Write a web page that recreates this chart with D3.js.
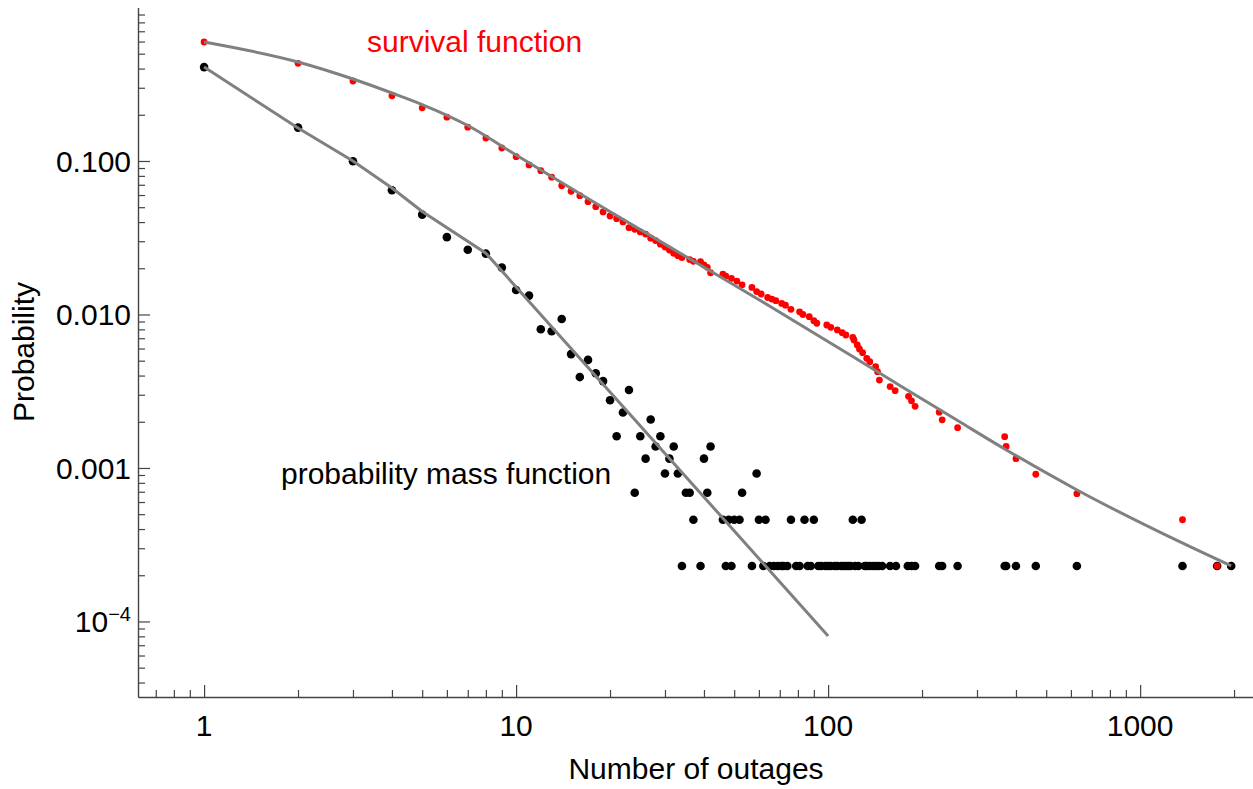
<!DOCTYPE html>
<html>
<head>
<meta charset="utf-8">
<script src="https://cdn.jsdelivr.net/npm/d3@7"></script>
<style>
  html, body { margin: 0; padding: 0; background: #ffffff; }
  svg { display: block; }
  text { font-family: "Liberation Sans", Arial, Helvetica, sans-serif; }
</style>
</head>
<body>
<svg id="chart" width="1253" height="789"></svg>
<script>
// ---------------- data ----------------
// probability mass function (black points)
const pmfX = [1,2,3,4,5,6,7,8,9,10,11,12,13,14,15,16,17,18,19,20,21,22,23,24,25,26,27,28,29,30,
  31,32,33,34,35,36,37,39,40,41,42,46,47,48,49,50,52,53,57,59,60,62,63,65,67,69,71,72,74,76,
  79,81,84,86,88,90,93,95,98,100,102,105,107,110,112,114,116,118,120,122,125,128,131,133,136,139,
  142,145,149,158,165,180,185,190,227,232,260,368,372,400,463,627,1367,1765,1958];
const pmfY = [0.409,0.165,0.0995,0.0644,0.0447,0.0319,0.0264,0.0249,0.0202,0.01445,0.01327,0.00801,
  0.00778,0.00935,0.00552,0.00391,0.00506,0.00414,0.00368,0.00276,0.00161,0.00230,0.00322,0.00069,
  0.00161,0.00115,0.00207,0.00138,0.00161,0.00092,0.00115,0.00138,0.00092,0.00023,0.00069,0.00069,
  0.00046,0.00023,0.00115,0.00069,0.00138,0.00046,0.00023,0.00046,0.00023,0.00046,0.00046,0.00069,
  0.00023,0.00092,0.00046,0.00023,0.00046,0.00023,0.00023,0.00023,0.00023,0.00023,0.00023,0.00046,
  0.00023,0.00023,0.00046,0.00023,0.00023,0.00046,0.00023,0.00023,0.00023,0.00023,0.00023,0.00023,
  0.00023,0.00023,0.00023,0.00023,0.00023,0.00023,0.00046,0.00023,0.00023,0.00046,0.00023,0.00023,
  0.00023,0.00023,0.00023,0.00023,0.00023,0.00023,0.00023,0.00023,0.00023,0.00023,0.00023,0.00023,
  0.00023,0.00023,0.00023,0.00023,0.00023,0.00023,0.00023,0.00023,0.00023];

// survival function (red points)
const survX = [1,2,3,4,5,6,7,8,9,10,11,12,13,14,15,16,17,18,19,20,21,22,23,24,25,26,27,28,29,30,
  31,32,33,34,36,37,39,40,41,42,46,47,49,51,53,57,59,61,64,66,68,71,73,76,81,83,87,90,92,99,
  102,107,111,114,120,121,124,126,129,133,136,142,144,146,158,164,181,185,190,227,232,260,368,372,
  400,463,627,1367,1765];
const survY = [0.596,0.433,0.332,0.266,0.222,0.193,0.166,0.141,0.1215,0.1067,0.0942,0.0865,0.0784,
  0.069,0.0635,0.0594,0.0543,0.0504,0.0466,0.0438,0.0421,0.0401,0.0368,0.0359,0.0345,0.0334,0.0314,
  0.0303,0.0287,0.0275,0.0263,0.0250,0.0241,0.0235,0.0228,0.0222,0.0221,0.0210,0.0203,0.0187,0.0183,
  0.0178,0.0172,0.0165,0.0156,0.0150,0.0141,0.0136,0.0129,0.0126,0.0123,0.0118,0.0115,0.0108,0.0104,
  0.0100,0.00968,0.00911,0.00877,0.00854,0.00825,0.00793,0.00761,0.00735,0.0071,0.00682,0.00633,
  0.00596,0.00564,0.00518,0.00493,0.00457,0.00424,0.00374,0.00339,0.00319,0.00293,0.00274,0.00252,
  0.00231,0.00206,0.00183,0.0016,0.00138,0.00115,0.00091,0.00068,0.00046,0.00023];

// fitted curves (gray lines)
const pmfFitX = [1,2,3,4,5,8,100];
const pmfFitY = [0.409,0.164,0.100,0.0667,0.0469,0.0251,0.0000805];
const survFitX = [1,2,3,4,5,7,10,17.3,38.9,60.6,117.7,169.7,261.4,368,628,1364,1958];
const survFitY = [0.596,0.4416,0.342,0.2773,0.2333,0.1703,0.1094,0.0557,0.0210,0.01234,0.00545,
  0.003448,0.002023,0.00133,0.000719,0.0003246,0.00023];

// ticks
const xMajorTicks = [1,10,100,1000];
const xTickLabels = ["1","10","100","1000"];
const yMajorTicks = [0.1,0.01,0.001,0.0001];
const yTickLabels = ["0.100","0.010","0.001","10^-4"];

// ---------------- drawing ----------------
const svg = d3.select("#chart");
const W = 1253, H = 789;
const plotLeft = 138, plotRight = 1253, plotTop = 7.5, plotBottom = 697;

const x = d3.scaleLog().domain([0.614, 2300]).range([plotLeft, plotRight]);
const y = d3.scaleLog().domain([1, 3.22e-5]).range([plotTop, plotBottom]);

svg.append("rect").attr("width", W).attr("height", H).attr("fill", "#ffffff");

const axisColor = "#444444";
const fontSize = 30;

// minor ticks from the scale's own tick generator
const isMajor = (v, majors) => majors.some(m => Math.abs(Math.log10(v) - Math.log10(m)) < 1e-6);
const xMinor = x.ticks().filter(v => !isMajor(v, xMajorTicks) && x(v) > plotLeft + 1);
const yMinor = y.ticks().filter(v => !isMajor(v, yMajorTicks) && v < 0.999 && y(v) < plotBottom - 1);

// x axis
const gx = svg.append("g").attr("transform", `translate(0,${plotBottom})`);
gx.call(d3.axisBottom(x).tickValues(xMinor).tickSizeInner(-7).tickSizeOuter(0).tickFormat(""));
gx.append("g").call(d3.axisBottom(x).tickValues(xMajorTicks).tickSizeInner(-12).tickSizeOuter(0).tickFormat(""))
  .select(".domain").remove();
gx.selectAll("line").attr("stroke", axisColor).attr("stroke-width", 1.2);
gx.selectAll(".domain").attr("stroke", axisColor).attr("stroke-width", 1.4);

// y axis
const gy = svg.append("g").attr("transform", `translate(${plotLeft},0)`);
gy.call(d3.axisLeft(y).tickValues(yMinor).tickSizeInner(-7).tickSizeOuter(0).tickFormat(""));
gy.append("g").call(d3.axisLeft(y).tickValues(yMajorTicks).tickSizeInner(-12).tickSizeOuter(0).tickFormat(""))
  .select(".domain").remove();
gy.selectAll("line").attr("stroke", axisColor).attr("stroke-width", 1.2);
gy.selectAll(".domain").attr("stroke", axisColor).attr("stroke-width", 1.4);

// x tick labels
svg.append("g").selectAll("text").data(xMajorTicks).join("text")
  .attr("x", d => x(d)).attr("y", 736)
  .attr("text-anchor", "middle").attr("font-size", fontSize).attr("fill", "#000")
  .text((d, i) => xTickLabels[i]);

// y tick labels
const yl = svg.append("g").selectAll("text").data(yMajorTicks).join("text")
  .attr("x", 131).attr("y", d => y(d) + 10.7)
  .attr("text-anchor", "end").attr("font-size", fontSize).attr("fill", "#000");
yl.each(function(d, i) {
  const lab = yTickLabels[i];
  const t = d3.select(this);
  if (lab.includes("^")) {
    const parts = lab.split("^");
    t.append("tspan").text(parts[0]);
    t.append("tspan").attr("font-size", 20).attr("dy", -11).text(parts[1].replace("-", "\u2212"));
  } else {
    t.text(lab);
  }
});

// axis titles
svg.append("text").attr("x", 696).attr("y", 779).attr("text-anchor", "middle")
  .attr("font-size", fontSize).attr("fill", "#000").text("Number of outages");
svg.append("text").attr("transform", "translate(34,352) rotate(-90)").attr("text-anchor", "middle")
  .attr("font-size", fontSize).attr("fill", "#000").text("Probability");

// points
const pmf = pmfX.map((v, i) => [v, pmfY[i]]);
const surv = survX.map((v, i) => [v, survY[i]]);

svg.append("g").selectAll("circle").data(pmf).join("circle")
  .attr("cx", d => x(d[0])).attr("cy", d => y(d[1])).attr("r", 4.3).attr("fill", "#000000");
svg.append("g").selectAll("circle").data(surv).join("circle")
  .attr("cx", d => x(d[0])).attr("cy", d => y(d[1])).attr("r", 3.4).attr("fill", "#ff0000");

// fitted lines
const lineLin = d3.line().x(d => x(d[0])).y(d => y(d[1]));
const lineSmooth = d3.line().x(d => x(d[0])).y(d => y(d[1])).curve(d3.curveMonotoneX);
svg.append("path").datum(survFitX.map((v, i) => [v, survFitY[i]]))
  .attr("d", lineSmooth).attr("fill", "none").attr("stroke", "#808080").attr("stroke-width", 3);
svg.append("path").datum(pmfFitX.map((v, i) => [v, pmfFitY[i]]))
  .attr("d", lineLin).attr("fill", "none").attr("stroke", "#808080").attr("stroke-width", 3);

// annotations
svg.append("text").attr("x", 367).attr("y", 52).attr("font-size", fontSize).attr("fill", "#ff0000")
  .text("survival function");
svg.append("text").attr("x", 281).attr("y", 484).attr("font-size", fontSize).attr("fill", "#000")
  .text("probability mass function");
</script>
</body>
</html>
